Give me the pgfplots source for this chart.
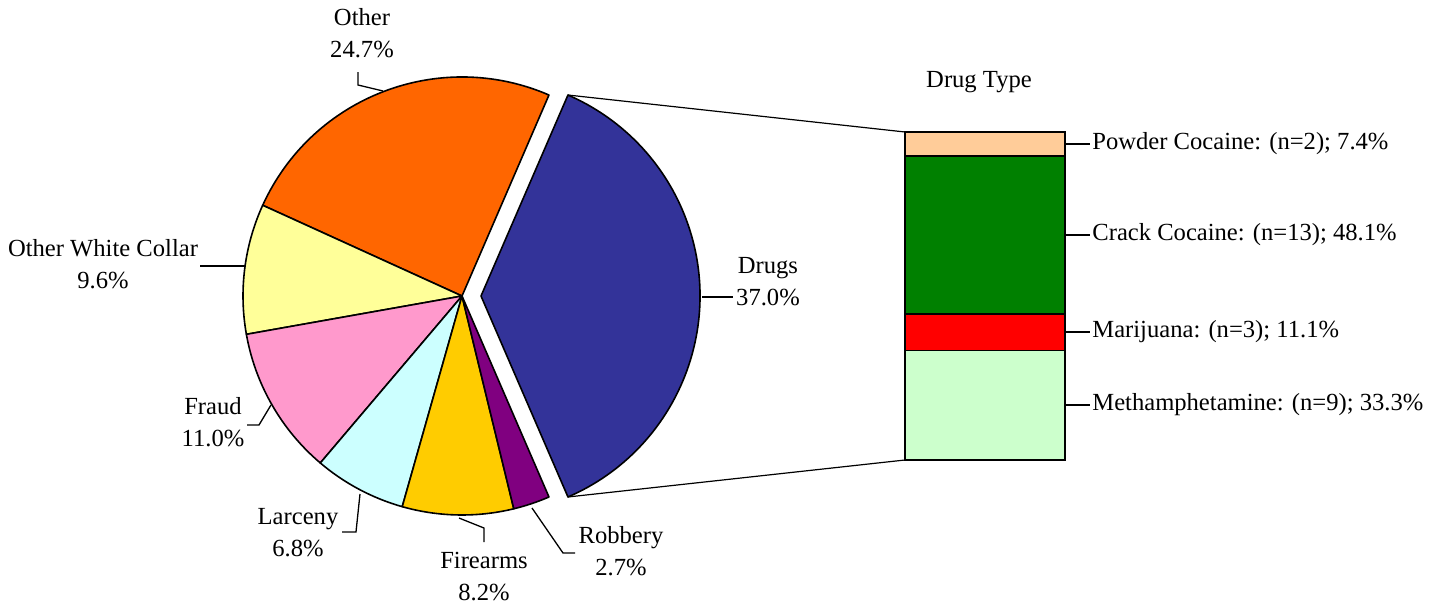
\documentclass[border=0pt]{standalone}
\usepackage{fontspec}
\setmainfont{Liberation Serif}
\usepackage{pgfplots}
\pgfplotsset{compat=1.18}
\definecolor{cDrugs}{HTML}{333399}
\definecolor{cOther}{HTML}{FF6600}
\definecolor{cOWC}{HTML}{FFFF99}
\definecolor{cFraud}{HTML}{FF99CC}
\definecolor{cLarc}{HTML}{CCFFFF}
\definecolor{cFire}{HTML}{FFCC00}
\definecolor{cRob}{HTML}{800080}
\definecolor{cPowder}{HTML}{FFCC99}
\definecolor{cCrack}{HTML}{008000}
\definecolor{cMari}{HTML}{FF0000}
\definecolor{cMeth}{HTML}{CCFFCC}
% pie slice: center x, center y, start angle, percent, colour
\newcommand{\pieslice}[5]{\filldraw[fill=#5, draw=black, line width=0.8pt, line join=round] (axis cs:#1,#2) -- ++(#3:109.5pt) arc[start angle=#3, delta angle={#4*3.6}, radius=109.5pt] -- cycle;}
\begin{document}
\begin{tikzpicture}[every node/.style={font=\fontsize{12.3}{16}\selectfont, inner sep=0pt}]
\begin{axis}[
  anchor=south west, at={(0,0)},
  x=0.5pt, y=0.5pt,
  xmin=0, xmax=1437, ymin=0, ymax=607,
  hide axis, clip=false,
]
\path (axis cs:0,0) rectangle (axis cs:1437,607);
% pie: percentages 37.0, 24.7, 9.6, 11.0, 6.8, 8.2, 2.7
\pieslice{481}{311}{-66.6}{37.0}{cDrugs}
\pieslice{462}{311}{66.6}{24.7}{cOther}
\pieslice{462}{311}{155.52}{9.6}{cOWC}
\pieslice{462}{311}{190.08}{11.0}{cFraud}
\pieslice{462}{311}{229.68}{6.8}{cLarc}
\pieslice{462}{311}{254.16}{8.2}{cFire}
\pieslice{462}{311}{283.68}{2.7}{cRob}
% connectors to the bar
\draw[line width=0.6pt] (axis cs:481,311) ++(66.6:109.5pt) -- (axis cs:905,475);
\draw[line width=0.6pt] (axis cs:481,311) ++(-66.6:109.5pt) -- (axis cs:905,147);
% leader lines
\draw[line width=0.65pt] (axis cs:358,535) -- (axis cs:358,522) -- (axis cs:383,516);
\draw[line width=0.65pt] (axis cs:200,341) -- (axis cs:245,341);
\draw[line width=0.65pt] (axis cs:247,182) -- (axis cs:259,182) -- (axis cs:271,202);
\draw[line width=0.65pt] (axis cs:342,75) -- (axis cs:356,75) -- (axis cs:360,113);
\draw[line width=0.65pt] (axis cs:484,65) -- (axis cs:484,79) -- (axis cs:459,89);
\draw[line width=0.65pt] (axis cs:532,99) -- (axis cs:563,54) -- (axis cs:575,54);
\draw[line width=0.65pt] (axis cs:702,310) -- (axis cs:733,310);
\draw[line width=0.65pt] (axis cs:1065,463) -- (axis cs:1090,463);
\draw[line width=0.65pt] (axis cs:1065,372) -- (axis cs:1090,372);
\draw[line width=0.65pt] (axis cs:1065,275) -- (axis cs:1090,275);
\draw[line width=0.65pt] (axis cs:1065,202) -- (axis cs:1090,202);
% labels
\node[align=center] at (axis cs:362,574) {Other\\24.7\%};
\node[align=center] at (axis cs:103,342.5) {Other White Collar\\9.6\%};
\node[align=center] at (axis cs:213,184.5) {Fraud\\11.0\%};
\node[align=center] at (axis cs:298,74.5) {Larceny\\6.8\%};
\node[align=center] at (axis cs:484,30) {Firearms\\8.2\%};
\node[align=center] at (axis cs:621,56) {Robbery\\2.7\%};
\node[align=center] at (axis cs:768,325.5) {Drugs\\37.0\%};
\node at (axis cs:979,525) {Drug Type};
\node[anchor=west] at (axis cs:1092,463) {Powder Cocaine: (n=2); 7.4\%};
\node[anchor=west] at (axis cs:1092,372) {Crack Cocaine: (n=13); 48.1\%};
\node[anchor=west] at (axis cs:1092,275) {Marijuana: (n=3); 11.1\%};
\node[anchor=west] at (axis cs:1092,202) {Methamphetamine: (n=9); 33.3\%};
\end{axis}
\begin{axis}[
  anchor=south west, at={(452.5pt,73.5pt)},
  width=80pt, height=164pt, scale only axis,
  hide axis, clip=false,
  xmin=-0.5, xmax=0.5, ymin=0, ymax=99.9,
  ybar stacked, bar width=80pt,
]
\addplot[fill=cMeth, draw=black, line width=0.8pt] coordinates {(0,33.3)};
\addplot[fill=cMari, draw=black, line width=0.8pt] coordinates {(0,11.1)};
\addplot[fill=cCrack, draw=black, line width=0.8pt] coordinates {(0,48.1)};
\addplot[fill=cPowder, draw=black, line width=0.8pt] coordinates {(0,7.4)};
\end{axis}
\end{tikzpicture}
\end{document}
